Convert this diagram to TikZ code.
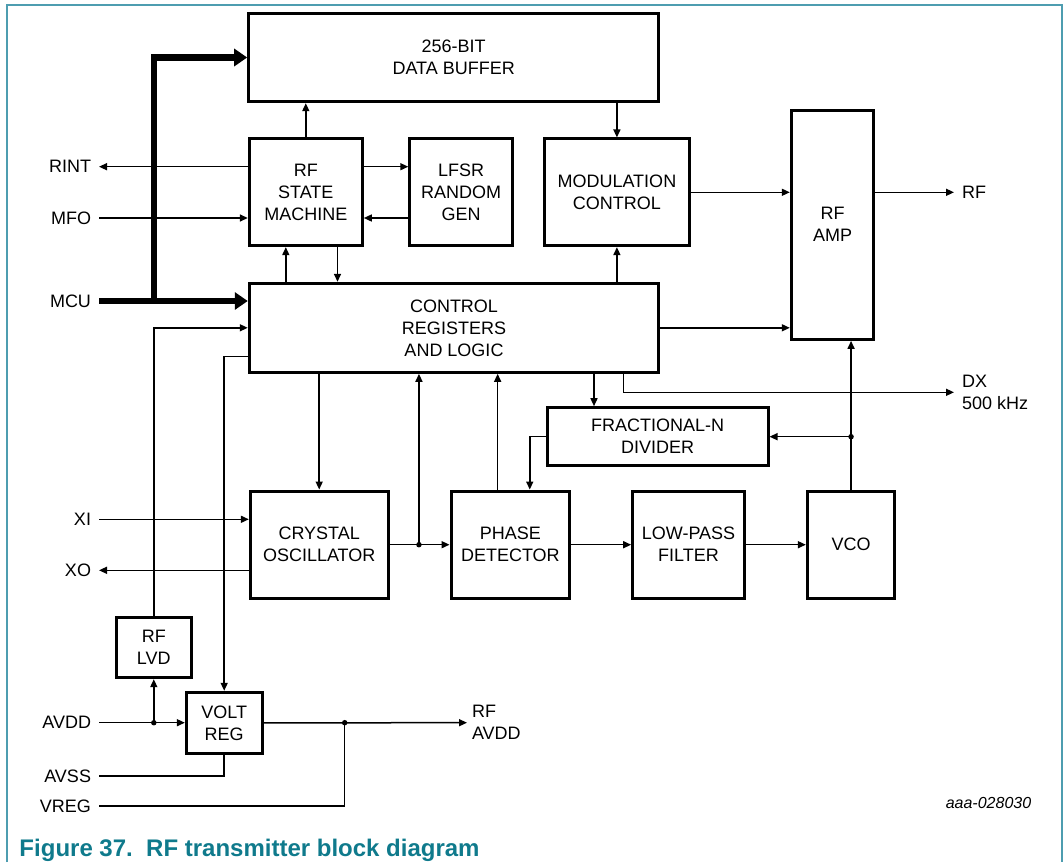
\documentclass[tikz,border=0pt]{standalone}
\usepackage{fontspec}
\setmainfont{Liberation Sans}
\usetikzlibrary{arrows.meta,positioning}
\definecolor{nxpteal}{HTML}{0F7A8C}
\definecolor{framecol}{HTML}{4E9DB0}

\begin{document}
\begin{tikzpicture}[x=1pt,y=1pt,>={Triangle[length=8pt,width=7pt]},
  every node/.style={font=\fontsize{18}{22}\selectfont},
  blk/.style={draw,line width=3pt,inner sep=0pt,align=center},
  wire/.style={line width=1.5pt},
  bus/.style={line width=6.5pt,-{Triangle[length=13pt,width=17pt]}},
  pinl/.style={inner sep=0pt,outer xsep=8pt,anchor=east},
  pinr/.style={inner sep=0pt,outer xsep=8pt,anchor=west,align=left},
  dot/.style={circle,fill,inner sep=0pt,minimum size=5.5pt}]
\useasboundingbox (0,0) rectangle (1064,-862);
\draw[framecol,line width=1.5pt] (7,-862) -- (7,-5) -- (1062,-5) -- (1062,-862);

% blocks
\node[blk,minimum width=410pt,minimum height=88.4pt] (buf) at (453.7,-57.5) {256-BIT\\DATA BUFFER};
\node[blk,minimum width=113pt,minimum height=106.7pt] (sm) at (305.8,-192.3) {RF\\STATE\\MACHINE};
\node[blk,minimum width=102.6pt,minimum height=106.7pt,right=44.5pt of sm] (lfsr) {LFSR\\RANDOM\\GEN};
\node[blk,minimum width=145pt,minimum height=106.7pt,right=29pt of lfsr] (mod) {MODULATION\\CONTROL};
\node[blk,minimum width=82.6pt,minimum height=229.3pt] (amp) at (832.6,-224.7) {RF\\AMP};
\node[blk,minimum width=409.5pt,minimum height=89pt] (ctrl) at (454,-327.8) {CONTROL\\REGISTERS\\AND LOGIC};
\node[blk,minimum width=221pt,minimum height=58pt] (frac) at (657.5,-436.7) {FRACTIONAL-N\\DIVIDER};
\node[blk,minimum width=137.7pt,minimum height=107.3pt] (osc) at (319.2,-544.7) {CRYSTAL\\OSCILLATOR};
\node[blk,minimum width=118.6pt,minimum height=107.3pt,right=60pt of osc] (pd) {PHASE\\DETECTOR};
\node[blk,minimum width=111.7pt,minimum height=107.3pt,right=60pt of pd] (lpf) {LOW-PASS\\FILTER};
\node[blk,minimum width=87.4pt,minimum height=107.3pt,right=60pt of lpf] (vco) {VCO};
\node[blk,minimum width=75.5pt,minimum height=60.4pt] (lvd) at (153.8,-647.5) {RF\\LVD};
\node[blk,minimum width=75.7pt,minimum height=61pt] (reg) at (224.2,-722.8) {VOLT\\REG};

% pins
\node[pinl] (rint) at (99,-166.7) {RINT};
\node[pinl] (mfo) at (99,-218) {MFO};
\node[pinl] (mcu) at (99,-301) {MCU};
\node[pinl] (xi) at (99,-519.3) {XI};
\node[pinl] (xo) at (99,-570.3) {XO};
\node[pinl] (avdd) at (99,-722.7) {AVDD};
\node[pinl] (avss) at (99,-776) {AVSS};
\node[pinl] (vreg) at (99,-806) {VREG};
\node[pinr] (rf) at (954,-192.3) {RF};
\node[pinr] (dx) at (954,-392.3) {DX\\500 kHz};
\node[pinr,outer xsep=5pt] (rfavdd) at (467,-722.7) {RF\\AVDD};

% bus
\coordinate (tap) at (154,-301);
\draw[bus] (mcu.east) -- (mcu.east -| ctrl.west);
\draw[bus] (tap) |- (buf.west);

% upper part
\draw[wire,->] (sm.north) -- (sm.north |- buf.south);
\draw[wire,->] (buf.south -| mod) -- (mod.north);
\draw[wire,->] ([yshift=25.6pt]sm.east) -- ([yshift=25.6pt]lfsr.west);
\draw[wire,->] ([yshift=-25.7pt]lfsr.west) -- ([yshift=-25.7pt]sm.east);
\draw[wire,->] ([yshift=25.6pt]sm.west) -- (rint.east);
\draw[wire,->] (mfo.east) -- ([yshift=-25.7pt]sm.west);
\draw[wire,->] ([xshift=-20pt]sm.south |- ctrl.north) -- ([xshift=-20pt]sm.south);
\draw[wire,->] ([xshift=31.7pt]sm.south) -- ([xshift=31.7pt]sm.south |- ctrl.north);
\draw[wire,->] (mod.south |- ctrl.north) -- (mod.south);
\draw[wire,->] (mod.east) -- (mod.east -| amp.west);
\draw[wire,->] (mod.east -| amp.east) -- (rf.west);
\draw[wire,->] (ctrl.east) -- (ctrl.east -| amp.west);

% pll loop
\draw[wire,->] ([xshift=-63.5pt]frac.north |- ctrl.south) -- ([xshift=-63.5pt]frac.north);
\draw[wire,->] ([xshift=169.4pt]ctrl.south) |- (dx.west);
\draw[wire,->] (vco.north) -- (vco.north |- amp.south);
\node[dot] (j2) at (vco.north |- frac.east) {};
\draw[wire,->] (j2.center) -- (frac.east);
\draw[wire,->] (frac.west) -| ([xshift=19.4pt]pd.north);
\draw[wire,->] ([xshift=-12.7pt]pd.north) -- ([xshift=-12.7pt]pd.north |- ctrl.south);
\draw[wire,->] (osc.north |- ctrl.south) -- (osc.north);
\draw[wire,->] (osc.east) -- (pd.west);
\path (osc.east) -- (pd.west) node[dot,pos=0.49] (j1) {};
\draw[wire,->] (j1.center) -- (j1 |- ctrl.south);
\draw[wire,->] (pd) -- (lpf);
\draw[wire,->] (lpf) -- (vco);
\draw[wire,->] (xi.east) -- (xi.east -| osc.west);
\draw[wire,->] (osc.west |- xo.east) -- (xo.east);

% supply
\draw[wire,->] (lvd.north) |- (ctrl.west);
\draw[wire,->] ([yshift=-28.9pt]ctrl.west) -| (reg.north);
\draw[wire,->] (avdd.east) -- (avdd.east -| reg.west);
\node[dot] (j3) at (avdd.east -| lvd.south) {};
\draw[wire,->] (j3.center) -- (lvd.south);
\draw[wire,->] (reg.east) -- (rfavdd.west);
\node[dot] (j4) at (344.7,-722.7) {};
\draw[wire] (avss.east) -| (reg.south);
\draw[wire] (vreg.east) -| (j4.center);

\node[font=\fontsize{16}{19}\selectfont\itshape,anchor=east,inner sep=0pt] (tag) at (1031.4,-802.7) {aaa-028030};
\node[font=\fontsize{24}{28}\selectfont\bfseries,text=nxpteal,anchor=base west,inner sep=0pt] (cap) at (19.3,-856) {Figure 37.\ \ RF transmitter block diagram};
\end{tikzpicture}
\end{document}
